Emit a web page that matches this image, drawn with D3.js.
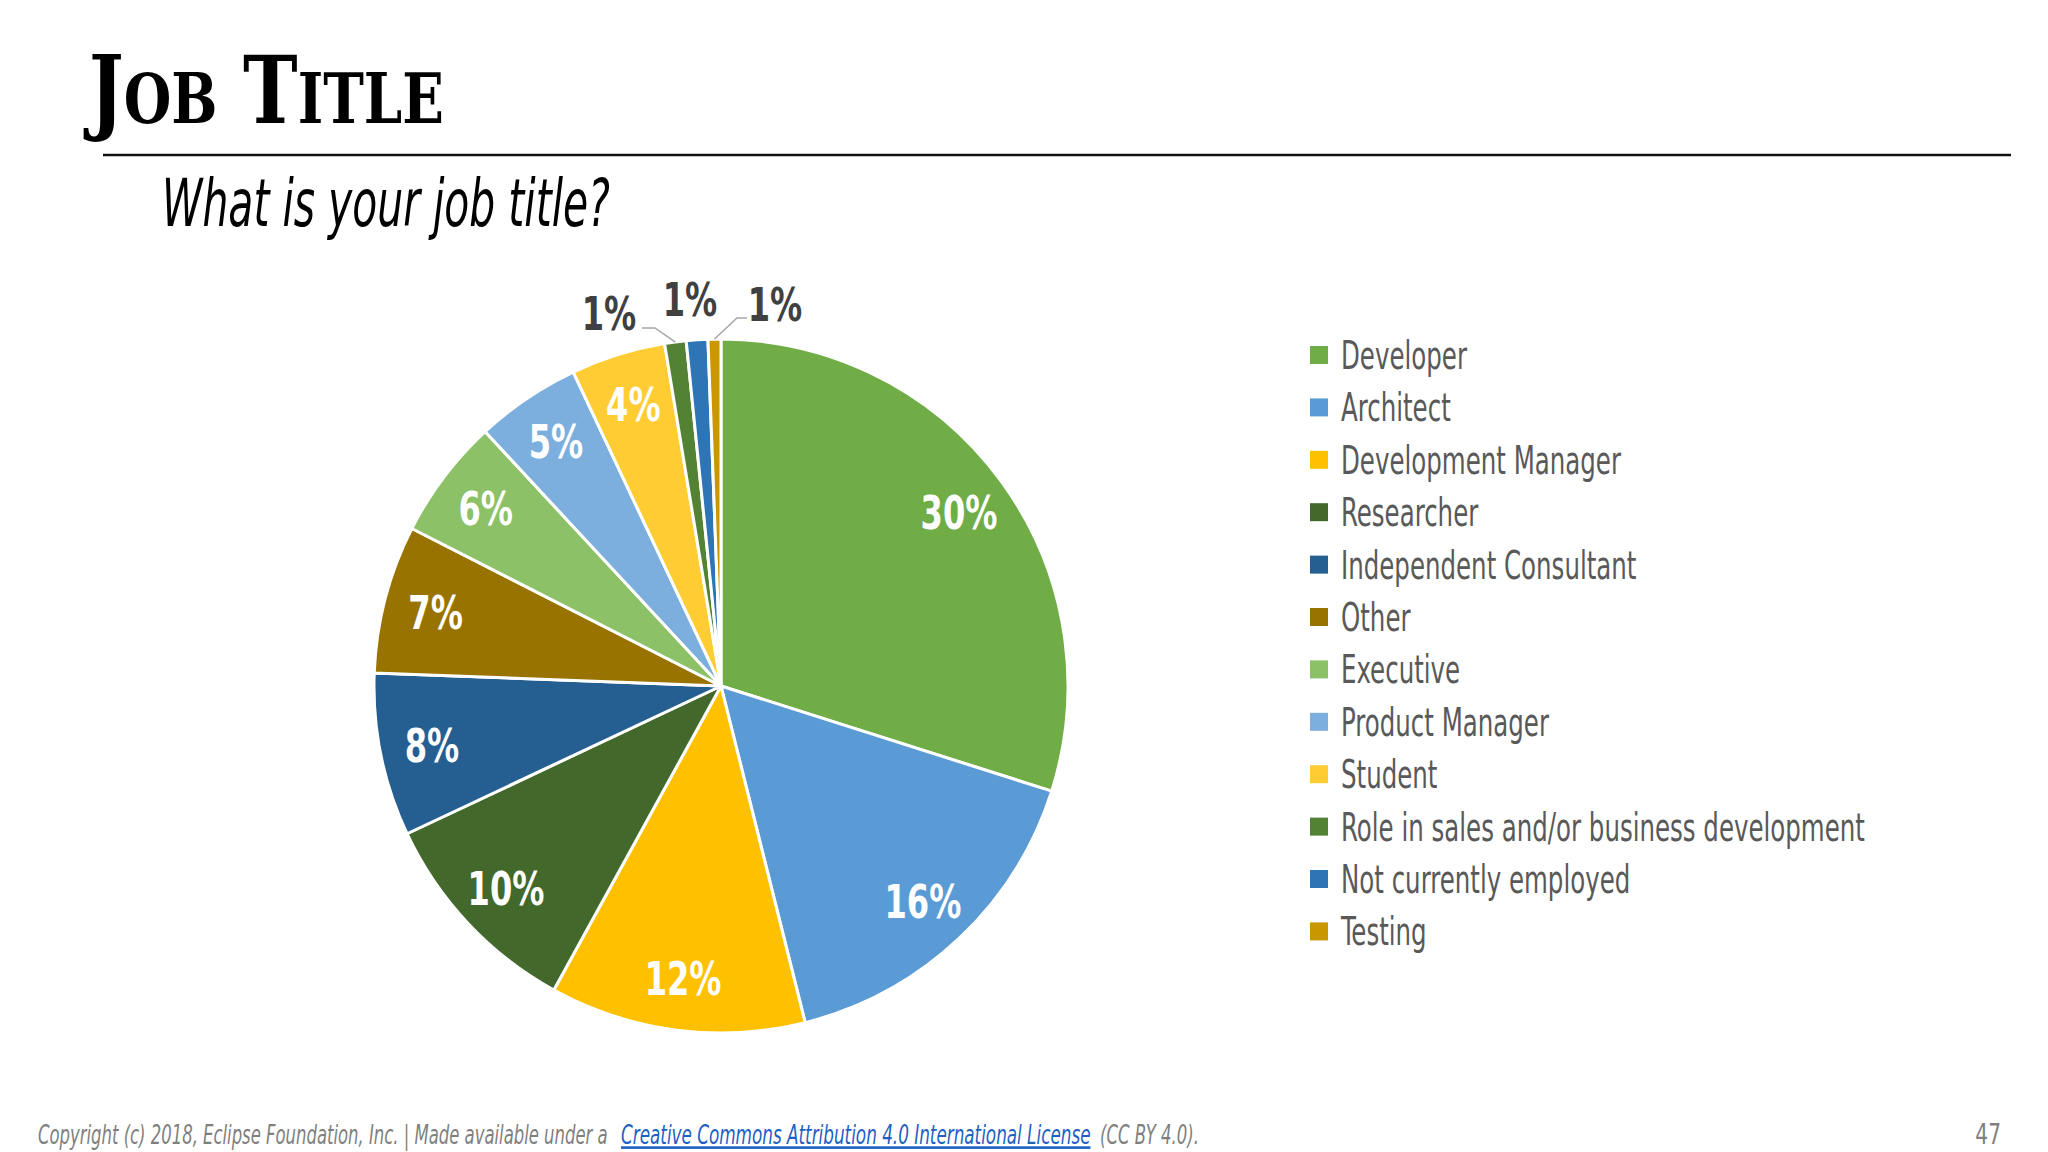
<!DOCTYPE html>
<html><head><meta charset="utf-8">
<script src="https://cdn.jsdelivr.net/npm/d3@7"></script>
<style>
body{margin:0;background:#fff}
svg{display:block}
</style>
</head><body>
<svg id="c" width="2048" height="1152"></svg>
<script>
// ---- data ----
const categories = ["Developer","Architect","Development Manager","Researcher","Independent Consultant","Other","Executive","Product Manager","Student","Role in sales and/or business development","Not currently employed","Testing"];
const values = [29.9,16.2,11.9,10.0,7.6,6.9,5.6,4.9,4.4,1.0,1.0,0.6];
const colors = ["#70AD47","#5B9BD5","#FFC000","#43682B","#255E91","#997300","#8CC168","#7CAFDD","#FFCD33","#548235","#2E75B6","#C99700"];
const titleText = "Job Title";
const subtitleText = "What is your job title?";
const footerPre = "Copyright (c) 2018, Eclipse Foundation, Inc. | Made available under a";
const footerLink = "Creative Commons Attribution 4.0 International License";
const footerPost = "(CC BY 4.0).";
const pageNumber = "47";

// ---- layout ----
const NARROW = "'Liberation Sans Narrow','DejaVu Sans Condensed',sans-serif";
const svg = d3.select("#c");
const cx = 721, cy = 686, R = 347;

// place a text at (x,y) horizontally condensed by k
function placed(parent, x, y, k){
  return parent.append("text").attr("transform",`translate(${x},${y}) scale(${k},1)`);
}
// fit a text (already styled and filled) to a given width starting at x
function fitTo(sel, x, y, width){
  const w = sel.node().getComputedTextLength();
  sel.attr("transform",`translate(${x},${y}) scale(${width/w},1)`);
  return sel;
}

// Title (small caps)
const t = svg.append("text")
  .attr("font-family","'DejaVu Serif',serif").attr("font-weight","bold").attr("fill","#000");
[["J",94],["OB",70],[" T",94],["ITLE",70]].forEach(([s,fs])=>{
  t.append("tspan").attr("font-size",fs).text(s);
});
fitTo(t, 89, 123, 355);

svg.append("line").attr("x1",103).attr("x2",2011).attr("y1",155).attr("y2",155)
  .attr("stroke","#111").attr("stroke-width",2.5);

fitTo(svg.append("text").attr("font-family",NARROW)
  .attr("font-style","italic").attr("font-size",66).attr("fill","#000")
  .text(subtitleText), 162, 226, 448);

// ---- pie ----
const total = d3.sum(values);
const pct = d3.format(".0%");
const pie = d3.pie().sort(null).value(d=>d)(values);
const arc = d3.arc().innerRadius(0).outerRadius(R);
const g = svg.append("g").attr("transform",`translate(${cx},${cy})`);
g.selectAll("path").data(pie).join("path")
  .attr("d",arc).attr("fill",(d,i)=>colors[i])
  .attr("stroke","#fff").attr("stroke-width",3).attr("stroke-linejoin","round");

const LK = 0.76; // label condensing
const labelArc = d3.arc().innerRadius(R*0.85).outerRadius(R*0.85);
pie.filter(d=>d.value>=3).forEach(d=>{
  const [x,y] = labelArc.centroid(d);
  placed(g, x, y, LK).attr("text-anchor","middle").attr("dy","0.36em")
    .attr("font-family",NARROW).attr("font-weight","600").attr("font-size",47)
    .attr("fill","#fff").text(pct(d.value/total));
});

// outside labels for small slices
const outside = [
  {i:9, lx:-112, ly:-373, elbow:[-66,-358], end:[-79,-358]},
  {i:10, lx:-31, ly:-387},
  {i:11, lx:54, ly:-382, elbow:[16,-368], end:[26,-368]}
];
outside.forEach(o=>{
  const d = pie[o.i];
  if(o.elbow){
    const a = (d.startAngle+d.endAngle)/2;
    const p = [Math.sin(a)*R, -Math.cos(a)*R];
    g.append("polyline").attr("points",[p,o.elbow,o.end].map(q=>q.join(",")).join(" "))
      .attr("fill","none").attr("stroke","#A6A6A6").attr("stroke-width",1.5);
  }
  placed(g, o.lx, o.ly, LK).attr("dy","0.36em")
    .attr("text-anchor","middle").attr("font-family",NARROW).attr("font-weight","600")
    .attr("font-size",47).attr("fill","#404040").text(pct(d.value/total));
});

// ---- legend ----
const lg = svg.append("g");
const rowH = 52.4, ly0 = 355;
const items = lg.selectAll("g").data(categories).join("g")
  .attr("transform",(d,i)=>`translate(1310,${ly0+i*rowH})`);
items.append("rect").attr("x",0).attr("y",-9).attr("width",18).attr("height",18)
  .attr("fill",(d,i)=>colors[i]);
const ltxt = items.append("text").attr("dy","0.36em").attr("font-family",NARROW)
  .attr("font-size",39).attr("fill","#595959").text(d=>d);
{
  const maxW = d3.max(ltxt.nodes(), n=>n.getComputedTextLength());
  const k = 524/maxW;
  ltxt.attr("transform",`translate(31,0) scale(${k},1)`);
}

// ---- footer ----
const fy = 1144;
const foot = (txt, fill) => svg.append("text").attr("font-family",NARROW).attr("font-style","italic")
  .attr("font-size",26).attr("fill",fill).text(txt);
fitTo(foot(footerPre,"#7F7F7F"), 38, fy, 570);
fitTo(foot(footerLink,"#1F5FC4").attr("text-decoration","underline"), 621, fy, 470);
fitTo(foot(footerPost,"#7F7F7F"), 1100, fy, 99);
placed(svg, 2001, fy, 0.8).attr("text-anchor","end").attr("font-family",NARROW)
  .attr("font-size",28).attr("fill","#7F7F7F").text(pageNumber);
</script>
</body></html>
